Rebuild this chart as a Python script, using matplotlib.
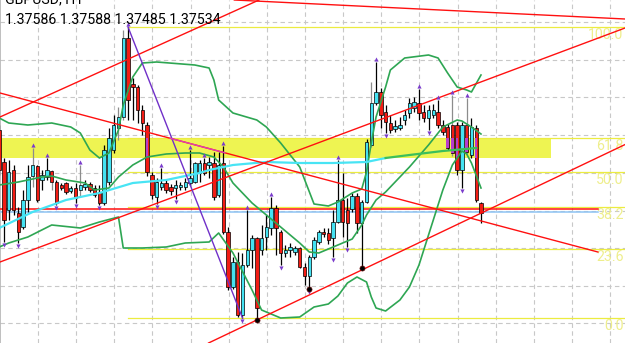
import matplotlib
matplotlib.use('Agg')
import matplotlib.pyplot as plt
import matplotlib.transforms as mtransforms
import numpy as np

plt.rcParams['font.family'] = ['Roboto', 'DejaVu Sans']

# ---- data (GBPUSD H1) ----
symbol = "GBPUSD, H1"
last_ohlc = "1.37586 1.37588 1.37485 1.37534"

bars = np.arange(-1, 101)
opens = [1.37950, 1.37790, 1.37550, 1.37750, 1.37535, 1.37465, 1.37600, 1.37720, 1.37770, 1.37700,
         1.37715, 1.37745, 1.37690, 1.37675, 1.37685, 1.37645, 1.37660, 1.37650, 1.37665, 1.37680,
         1.37660, 1.37640, 1.37585, 1.37690, 1.37850, 1.37960, 1.38015, 1.38410, 1.38180, 1.38165,
         1.38050, 1.37975, 1.37725, 1.37615, 1.37665, 1.37685, 1.37665, 1.37660, 1.37665, 1.37665,
         1.37685, 1.37690, 1.37735, 1.37785, 1.37775, 1.37785, 1.37625, 1.37785, 1.37440, 1.37165,
         1.37290, 1.37025, 1.37275, 1.37350, 1.37410, 1.37350, 1.37415, 1.37460, 1.37560, 1.37440,
         1.37335, 1.37350, 1.37340, 1.37360, 1.37265, 1.37220, 1.37315, 1.37390, 1.37440, 1.37435,
         1.37410, 1.37490, 1.37600, 1.37550, 1.37555, 1.37620, 1.37485, 1.37590, 1.37875, 1.38085,
         1.38140, 1.38040, 1.37985, 1.37955, 1.37960, 1.38000, 1.38035, 1.38060, 1.38085, 1.38040,
         1.38010, 1.38025, 1.38040, 1.37975, 1.37965, 1.37975, 1.37975, 1.37750, 1.37975, 1.37825,
         1.37960, 1.37586]
highs = [1.37975, 1.37810, 1.37800, 1.37775, 1.37565, 1.37650, 1.37775, 1.37860, 1.37775, 1.37750,
         1.37810, 1.37750, 1.37700, 1.37685, 1.37690, 1.37670, 1.37685, 1.37775, 1.37700, 1.37690,
         1.37675, 1.37675, 1.37875, 1.37960, 1.38025, 1.38065, 1.38450, 1.38465, 1.38210, 1.38175,
         1.38075, 1.37990, 1.37740, 1.37710, 1.37760, 1.37700, 1.37680, 1.37700, 1.37690, 1.37710,
         1.37850, 1.37790, 1.37800, 1.37810, 1.37815, 1.37840, 1.37840, 1.37870, 1.37465, 1.37315,
         1.37340, 1.37335, 1.37550, 1.37425, 1.37415, 1.37475, 1.37525, 1.37615, 1.37575, 1.37450,
         1.37375, 1.37385, 1.37370, 1.37365, 1.37285, 1.37325, 1.37415, 1.37450, 1.37460, 1.37460,
         1.37550, 1.37800, 1.37735, 1.37610, 1.37635, 1.37635, 1.37600, 1.37905, 1.38190, 1.38290,
         1.38160, 1.38075, 1.38025, 1.38000, 1.38015, 1.38050, 1.38110, 1.38115, 1.38155, 1.38075,
         1.38075, 1.38080, 1.38100, 1.38000, 1.37980, 1.38125, 1.37990, 1.37990, 1.38110, 1.38010,
         1.37975, 1.37588]
lows = [1.37725, 1.37390, 1.37500, 1.37525, 1.37385, 1.37455, 1.37540, 1.37665, 1.37590, 1.37650,
        1.37700, 1.37650, 1.37575, 1.37650, 1.37630, 1.37635, 1.37585, 1.37615, 1.37650, 1.37640,
        1.37615, 1.37575, 1.37575, 1.37675, 1.37835, 1.37900, 1.38000, 1.38000, 1.38000, 1.37985,
        1.37925, 1.37720, 1.37605, 1.37580, 1.37650, 1.37635, 1.37625, 1.37605, 1.37650, 1.37650,
        1.37675, 1.37685, 1.37690, 1.37725, 1.37710, 1.37600, 1.37615, 1.37430, 1.37150, 1.37155,
        1.37015, 1.37010, 1.37265, 1.37260, 1.37000, 1.37325, 1.37350, 1.37425, 1.37325, 1.37275,
        1.37315, 1.37315, 1.37325, 1.37260, 1.37175, 1.37155, 1.37305, 1.37380, 1.37415, 1.37380,
        1.37315, 1.37485, 1.37415, 1.37365, 1.37540, 1.37435, 1.37260, 1.37585, 1.37865, 1.38075,
        1.37960, 1.37935, 1.37935, 1.37940, 1.37950, 1.37975, 1.38010, 1.38040, 1.38000, 1.37990,
        1.37950, 1.38010, 1.37960, 1.37925, 1.37850, 1.37820, 1.37725, 1.37660, 1.37830, 1.37810,
        1.37590, 1.37485]
closes = [1.37750, 1.37500, 1.37740, 1.37550, 1.37440, 1.37600, 1.37715, 1.37775, 1.37600, 1.37725,
          1.37750, 1.37690, 1.37585, 1.37660, 1.37640, 1.37660, 1.37610, 1.37675, 1.37680, 1.37650,
          1.37625, 1.37585, 1.37850, 1.37910, 1.37975, 1.38015, 1.38410, 1.38100, 1.38165, 1.38050,
          1.37985, 1.37740, 1.37625, 1.37690, 1.37685, 1.37650, 1.37645, 1.37675, 1.37675, 1.37690,
          1.37710, 1.37785, 1.37785, 1.37735, 1.37790, 1.37615, 1.37775, 1.37440, 1.37165, 1.37290,
          1.37025, 1.37275, 1.37350, 1.37410, 1.37060, 1.37410, 1.37465, 1.37560, 1.37460, 1.37335,
          1.37350, 1.37365, 1.37360, 1.37265, 1.37220, 1.37315, 1.37400, 1.37440, 1.37430, 1.37400,
          1.37490, 1.37600, 1.37490, 1.37485, 1.37620, 1.37485, 1.37590, 1.37890, 1.38085, 1.38140,
          1.38025, 1.37990, 1.37950, 1.37970, 1.37975, 1.38025, 1.38085, 1.38090, 1.38035, 1.38010,
          1.38050, 1.38050, 1.37975, 1.37940, 1.37860, 1.37835, 1.37750, 1.37975, 1.37840, 1.37965,
          1.37600, 1.37534]

# fractal arrows and channel touch points (bar numbers)
fractal_up = [6, 9, 16, 26, 33, 39, 42, 46, 51, 56, 70, 78, 87, 91, 94, 97]
fractal_down = [0, 3, 11, 15, 20, 32, 36, 50, 58, 64, 69, 72, 80, 89, 96]
channel_dots = [53, 64, 75]
gray_wicks = [6, 10, 16, 24, 25, 77, 94, 97]

# Bollinger bands and moving average
upper_bars = [-1, 1, 5, 10, 14, 16, 18, 20, 22, 24, 25, 27, 29, 32, 40, 43, 44, 45, 48, 53,
              55, 58, 62, 65, 68, 70, 73, 75, 76, 77, 78, 80, 81, 84, 89, 91, 93, 95, 97, 98, 100]
upper_vals = [1.38010, 1.37985, 1.37975, 1.37985, 1.37965, 1.37935, 1.37850, 1.37810, 1.37835, 1.37950,
              1.38075, 1.38215, 1.38285, 1.38290, 1.38275, 1.38260, 1.38200, 1.38100, 1.38035, 1.38000,
              1.37965, 1.37885, 1.37765, 1.37580, 1.37570, 1.37590, 1.37635, 1.37655, 1.37740, 1.37885,
              1.38015, 1.38165, 1.38250, 1.38310, 1.38325, 1.38310, 1.38235, 1.38165, 1.38150, 1.38140,
              1.38225]
middle_bars = [-1, 3, 8, 10, 13, 17, 19, 22, 24, 27, 30, 34, 38, 41, 44, 46, 48, 52, 55, 59,
               62, 64, 66, 69, 73, 75, 76, 78, 80, 83, 85, 89, 92, 95, 96, 98, 100]
middle_vals = [1.37675, 1.37690, 1.37715, 1.37720, 1.37700, 1.37685, 1.37650, 1.37660, 1.37715, 1.37775,
               1.37815, 1.37830, 1.37835, 1.37835, 1.37815, 1.37765, 1.37685, 1.37585, 1.37525, 1.37445,
               1.37385, 1.37340, 1.37335, 1.37365, 1.37405, 1.37475, 1.37525, 1.37600, 1.37640, 1.37715,
               1.37765, 1.37875, 1.37965, 1.38000, 1.37995, 1.37965, 1.37930]
lower_bars = [-1, 1, 5, 10, 16, 20, 24, 25, 29, 34, 38, 43, 45, 48, 52, 54, 58, 62, 65, 68,
              70, 72, 74, 76, 77, 78, 80, 83, 85, 87, 89, 92, 94, 96, 97, 98, 100]
lower_vals = [1.37365, 1.37385, 1.37415, 1.37475, 1.37460, 1.37490, 1.37515, 1.37360, 1.37360, 1.37365,
              1.37385, 1.37390, 1.37435, 1.37335, 1.37150, 1.37050, 1.37010, 1.37015, 1.37065, 1.37080,
              1.37120, 1.37185, 1.37215, 1.37190, 1.37115, 1.37060, 1.37045, 1.37100, 1.37165, 1.37275,
              1.37425, 1.37650, 1.37775, 1.37845, 1.37830, 1.37785, 1.37660]
ma_bars = [-1, 6, 13, 20, 27, 34, 41, 43, 48, 55, 62, 69, 76, 80, 85, 92, 99]
ma_vals = [1.37460, 1.37540, 1.37600, 1.37635, 1.37685, 1.37700, 1.37735, 1.37750, 1.37775, 1.37790,
           1.37785, 1.37785, 1.37790, 1.37810, 1.37825, 1.37845, 1.37860]

# fibonacci retracement (high of bar 26 -> low of bar 50)
fib_ratios = [0.0, 0.236, 0.382, 0.5, 0.618, 1.0]
fib_labels = ["0.0", "23.6", "38.2", "50.0", "61.8", "100.0"]
fib_start = 26
fib_high = 1.38465
fib_low = 1.37010

# supply zone rectangle
zone_top = 1.37910
zone_bottom = 1.37810
zone_end = 114.7

# horizontal levels
red_level = 1.37555
blue_level = 1.37540
level_end = 124.5

# trend lines: two anchor points (bar, price)
ray_lines = [((91.4, 1.38550), (130.2, 1.38505)),
             ((-0.84, 1.38015), (53.46, 1.38600)),
             ((-0.84, 1.37290), (130.2, 1.38460)),
             ((53, 1.37000), (75, 1.37250))]
falling_line = ((-0.84, 1.38135), (124.5, 1.37340))
pink_part = (34.8, 46.3)

# ---- figure ----
fig = plt.figure(figsize=(6.25, 3.43), dpi=100)
ax = fig.add_axes([0, 0, 1, 1])
ax.set_xlim(-0.839, 130.19)
ax.set_ylim(1.36885, 1.38600)
ax.set_xticks([])
ax.set_yticks([])
for s in ['top', 'right', 'bottom']:
    ax.spines[s].set_visible(False)
ax.spines['left'].set_color('#b4b4b4')
ax.spines['left'].set_linewidth(1.2)

# grid
for gx in np.arange(7.1, 130, 8):
    ax.axvline(gx, color='#c8c8c8', lw=0.8, ls=(0, (4, 3)), zorder=0)
for gy in [1.38490, 1.38300, 1.38115, 1.37925, 1.37735, 1.37545, 1.37360, 1.37170, 1.36985]:
    ax.axhline(gy, color='#c8c8c8', lw=0.8, ls=(0, (4, 3)), zorder=0)

# zone
ax.fill_between([-1, zone_end], zone_bottom, zone_top, color='#eef452', lw=0, zorder=1)

# fibonacci levels
lab_tr = mtransforms.blended_transform_factory(ax.transAxes, ax.transData)
for r, lab in zip(fib_ratios, fib_labels):
    lvl = fib_low + r * (fib_high - fib_low)
    ax.plot([fib_start, 131], [lvl, lvl], color='#ecec40', lw=0.9, zorder=2)
    ax.text(0.9975, lvl - 0.00004, lab, transform=lab_tr, ha='right', va='top',
            fontsize=10.2, color='#eeee8c', zorder=2)

# horizontal levels
ax.plot([-1, level_end], [red_level, red_level], color='#ff1010', lw=1.1, zorder=3)
ax.plot([-1, level_end], [blue_level, blue_level], color='#8ec4f4', lw=1.1, zorder=3)

# candles
o = np.array(opens)
h = np.array(highs)
l = np.array(lows)
c = np.array(closes)
bull = c >= o
wick_cols = ['#8c8c8c' if b in gray_wicks else 'black' for b in bars]
ax.vlines(bars, l, h, colors=wick_cols, lw=0.9, zorder=4)
body_lo = np.minimum(o, c)
body_h = np.maximum(np.abs(c - o), 0.00002)
ax.bar(bars, body_h, bottom=body_lo, width=0.72,
       color=np.where(bull, '#44e2f2', '#f21c14'), edgecolor='black', linewidth=0.5, zorder=5)
# bear bodies inside the zone show magenta
for b, lo, hi, up in zip(bars, body_lo, body_lo + body_h, bull):
    if up:
        continue
    a = max(lo, zone_bottom)
    z = min(hi, zone_top)
    if z > a:
        ax.bar(b, z - a, bottom=a, width=0.5, color='#b83ccc', lw=0, zorder=5.5)

# indicators
ax.plot(upper_bars, upper_vals, color='#2ea653', lw=1.2, zorder=6)
ax.plot(middle_bars, middle_vals, color='#2ea653', lw=1.2, zorder=6)
ax.plot(lower_bars, lower_vals, color='#2ea653', lw=1.2, zorder=6)
ma_b = np.array(ma_bars)
ma_v = np.array(ma_vals)
cut = ma_b <= 80
ax.plot(ma_b[cut], ma_v[cut], color='#48e4f4', lw=1.6, zorder=6)
ax.plot(ma_b[ma_b >= 80], ma_v[ma_b >= 80], color='#3cbf5a', lw=1.6, zorder=6)

# trend lines
for p1, p2 in ray_lines:
    ax.axline(p1, p2, color='#ff1010', lw=1.0, zorder=7)
(fx0, fy0), (fx1, fy1) = falling_line
ax.plot([fx0, fx1], [fy0, fy1], color='#ff1010', lw=1.0, zorder=7)
px = np.array(pink_part)
ax.plot(px, np.interp(px, [fx0, fx1], [fy0, fy1]), color='#e040b0', lw=1.0, zorder=7.1)

# zigzag from swing high to swing low
ax.plot([fib_start, 50], [fib_high, fib_low], color='#7030c8', lw=1.0, zorder=7)

# fractals and dots
off = 0.00013
ax.scatter(fractal_up, h[np.array(fractal_up) + 1] + off, marker='^', s=9,
           color='#7a3ccc', lw=0, zorder=8)
ax.scatter(fractal_down, l[np.array(fractal_down) + 1] - off, marker='v', s=9,
           color='#7a3ccc', lw=0, zorder=8)
ax.scatter(channel_dots, l[np.array(channel_dots) + 1], marker='o', s=14,
           color='black', edgecolor='#7a1010', lw=0.4, zorder=8)

# header text
fig.text(5 / 625, 1 - 3 / 343, symbol, fontsize=10.2, color='black', va='baseline')
fig.text(5 / 625, 1 - 24 / 343, last_ohlc, fontsize=10.2, color='black', va='baseline')

fig.savefig('out.png', dpi=100)
